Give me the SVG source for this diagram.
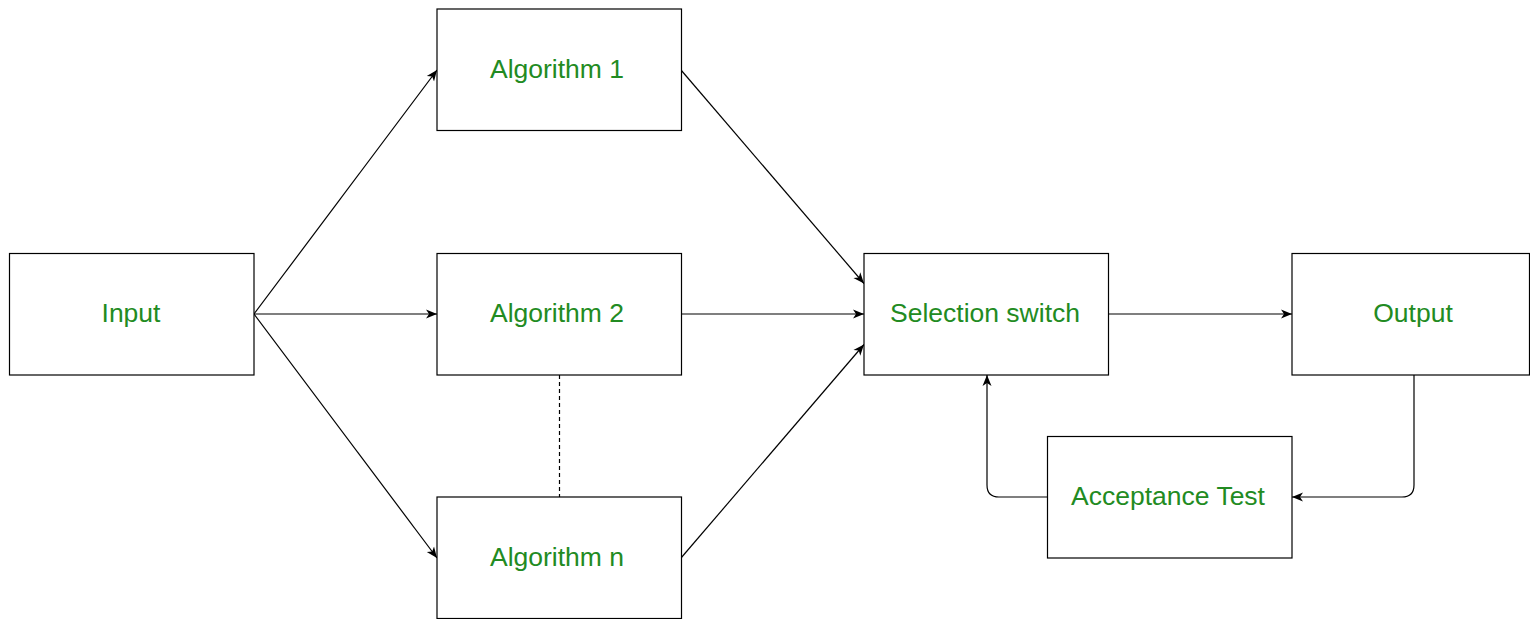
<svg xmlns="http://www.w3.org/2000/svg" width="1530" height="619" viewBox="0 0 1530 619">
<style>
.box{fill:#fff;stroke:#000;stroke-width:1.2}
.lbl{font-family:"Liberation Sans",Arial,sans-serif;font-size:26.5px;fill:#228B22;text-anchor:middle}
.con{fill:none;stroke:#000;stroke-width:1.2}
</style>
<defs>
<marker id="arr" markerUnits="userSpaceOnUse" markerWidth="14" markerHeight="12" refX="11" refY="6" orient="auto">
<path d="M0,1.5 L11,6 L0,10.5 L3,6 Z" fill="#000"/>
</marker>
</defs>
<g id="connectors">
<line class="con" x1="254" y1="314" x2="437" y2="70" marker-end="url(#arr)"/>
<line class="con" x1="254" y1="314" x2="437" y2="314" marker-end="url(#arr)"/>
<line class="con" x1="254" y1="314" x2="437" y2="558" marker-end="url(#arr)"/>
<line class="con" x1="681" y1="70" x2="864" y2="283.5" marker-end="url(#arr)"/>
<line class="con" x1="681" y1="314" x2="864" y2="314" marker-end="url(#arr)"/>
<line class="con" x1="681" y1="558" x2="864" y2="344.5" marker-end="url(#arr)"/>
<line class="con" x1="559.5" y1="375" x2="559.5" y2="497" stroke-dasharray="4,3"/>
<line class="con" x1="1108" y1="314" x2="1292" y2="314" marker-end="url(#arr)"/>
<path class="con" d="M1414,375 L1414,485 Q1414,497 1402,497 L1292,497" marker-end="url(#arr)"/>
<path class="con" d="M1047,497 L999,497 Q987,497 987,485 L987,375" marker-end="url(#arr)"/>
</g>
<g id="input"><rect class="box" x="9.5" y="253.5" width="244.5" height="121.5"/><text class="lbl" x="131" y="322">Input</text></g>
<g id="alg1"><rect class="box" x="437" y="9" width="244.5" height="121.5"/><text class="lbl" x="557" y="78">Algorithm 1</text></g>
<g id="alg2"><rect class="box" x="437" y="253.5" width="244.5" height="121.5"/><text class="lbl" x="557" y="322">Algorithm 2</text></g>
<g id="algn"><rect class="box" x="437" y="497" width="244.5" height="121.5"/><text class="lbl" x="557" y="566">Algorithm n</text></g>
<g id="selection"><rect class="box" x="864" y="253.5" width="244.5" height="121.5"/><text class="lbl" x="985" y="322">Selection switch</text></g>
<g id="output"><rect class="box" x="1292" y="253.5" width="237.5" height="121.5"/><text class="lbl" x="1413" y="322">Output</text></g>
<g id="acceptance"><rect class="box" x="1047.5" y="436.5" width="244.5" height="121.5"/><text class="lbl" x="1168" y="505">Acceptance Test</text></g>
</svg>
